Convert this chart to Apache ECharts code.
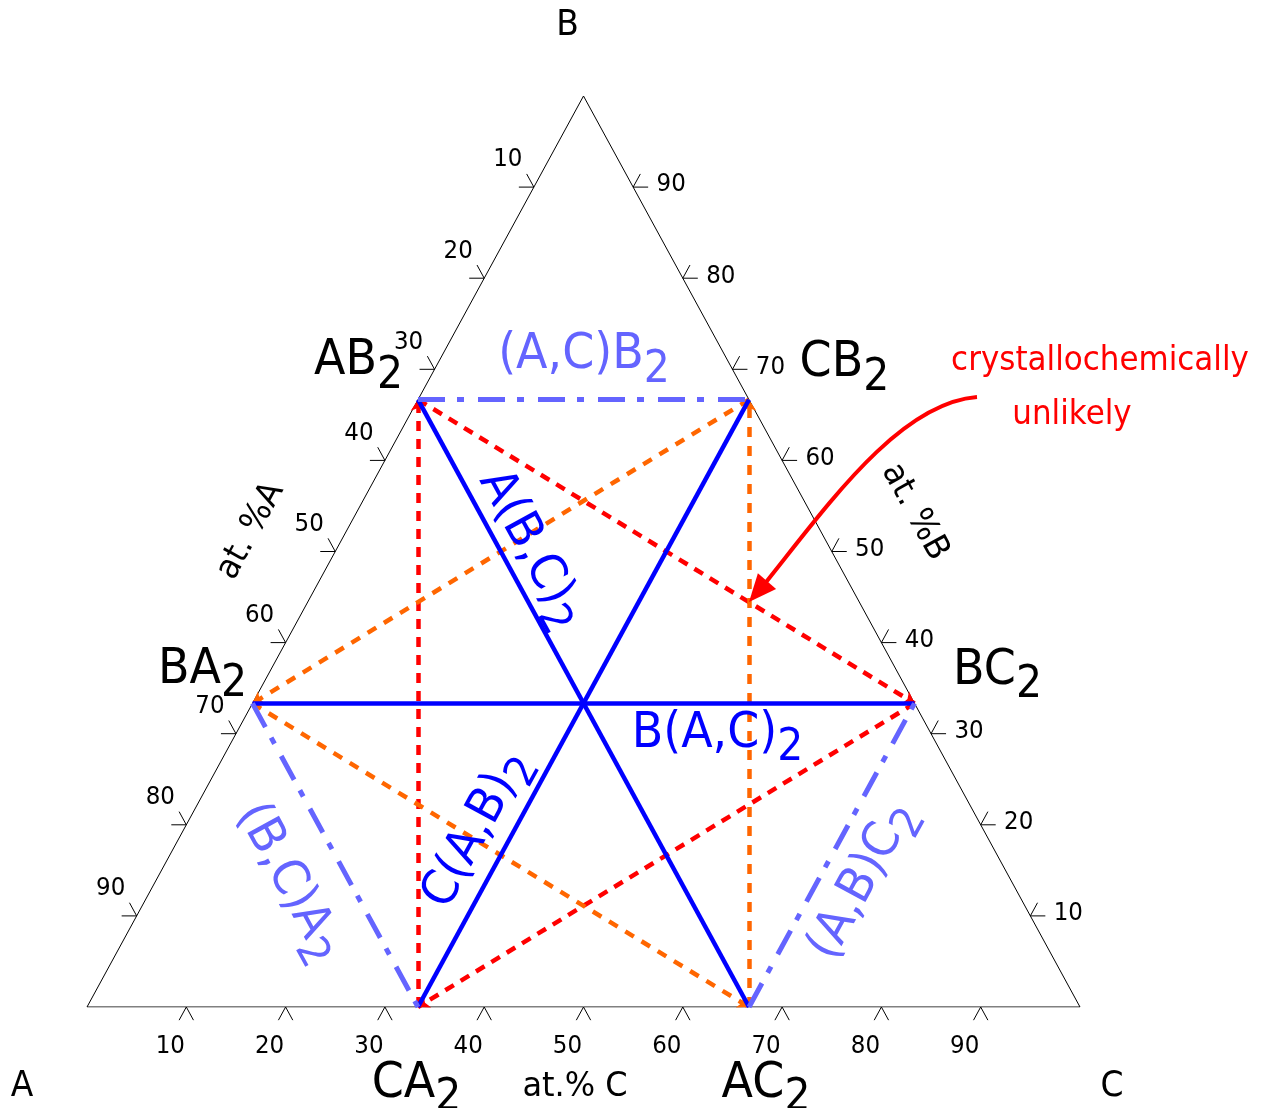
<!DOCTYPE html>
<html>
<head>
<meta charset="utf-8">
<title>Ternary system A–B–C with AB2-type phases</title>
<script src="https://cdn.jsdelivr.net/npm/echarts@6/dist/echarts.min.js"></script>
<style>
  html, body { margin: 0; padding: 0; background: #ffffff; }
  #chart { width: 1269px; height: 1108px; }
</style>
</head>
<body>
<div id="chart"></div>
<script>
// ---------------------------------------------------------------------------
// Data
// ---------------------------------------------------------------------------
const vertexNames = ['A', 'B', 'C'];
const tickValues = [10, 20, 30, 40, 50, 60, 70, 80, 90];
const axisTitles = ['at. %A', 'at. %B', 'at.% C'];

// AB2-type binary compounds and their compositions in at.%
const phaseFormula = ['AB', 'CB', 'BA', 'BC', 'CA', 'AC'];
const phaseSub = '2';
const phaseA = [33.33, 0, 66.67, 0, 66.67, 33.33];
const phaseB = [66.67, 66.67, 33.33, 33.33, 0, 0];
const phaseC = [0, 33.33, 0, 66.67, 33.33, 66.67];

// solid solutions between two compounds (indices into the phase lists)
const solidSolutionNames = ['A(B,C)', 'B(A,C)', 'C(A,B)'];
const solidSolutionEnds = [[0, 5], [2, 3], [4, 1]];
const mixedSiteNames = ['(A,C)B', '(B,C)A', '(A,B)C'];
const mixedSiteEnds = [[0, 1], [2, 4], [5, 3]];

// dotted tie lines, the arrow sits on the second end
const redTieEnds = [[0, 3], [3, 4], [4, 0]];
const orangeTieEnds = [[1, 2], [2, 5], [5, 1]];

const noteLines = ['crystallochemically', 'unlikely'];

// ---------------------------------------------------------------------------
// Geometry helpers
// ---------------------------------------------------------------------------
const FONT = 'DejaVu Sans';
const TEXT_STRETCH = 1.07;
const BLUE = '#0000ff';
const LIGHT_BLUE = '#6464ff';
const RED = '#ff0000';
const ORANGE = '#ff6600';

// composition (A, B, C) -> plane: x = C + B/2, y = B
function toXY(a, b, c) {
  const s = a + b + c;
  return [100 * (c + b / 2) / s, 100 * b / s];
}
const cornerXY = [toXY(100, 0, 0), toXY(0, 100, 0), toXY(0, 0, 100)];
const phaseXY = phaseFormula.map((_, i) => toXY(phaseA[i], phaseB[i], phaseC[i]));

function unit(p, q) {
  const dx = q[0] - p[0], dy = q[1] - p[1];
  const l = Math.hypot(dx, dy);
  return [dx / l, dy / l];
}
function intersect(p1, p2, p3, p4) {
  const d = (p1[0] - p2[0]) * (p3[1] - p4[1]) - (p1[1] - p2[1]) * (p3[0] - p4[0]);
  const a = p1[0] * p2[1] - p1[1] * p2[0];
  const b = p3[0] * p4[1] - p3[1] * p4[0];
  return [(a * (p3[0] - p4[0]) - (p1[0] - p2[0]) * b) / d,
          (a * (p3[1] - p4[1]) - (p1[1] - p2[1]) * b) / d];
}

const measureCtx = document.createElement('canvas').getContext('2d');
function textWidth(str, size) {
  measureCtx.font = size + 'px "' + FONT + '"';
  return measureCtx.measureText(str).width;
}

function plainText(x, y, text, size, color, rotation) {
  return {
    type: 'text', x: x, y: y, rotation: rotation || 0, scaleY: TEXT_STRETCH,
    style: {
      text: text, fill: color, fontSize: size, fontFamily: FONT,
      align: 'center', verticalAlign: 'middle',
      textAlign: 'center', textVerticalAlign: 'middle'
    }
  };
}

// formula with a lowered subscript, centred on (cx, cy)
const MAIN_SIZE = 46;
const SUB_SIZE = 41;
const SUB_DROP = 12;
function formula(cx, cy, base, sub, color, rotation) {
  const wb = textWidth(base, MAIN_SIZE);
  const ws = textWidth(sub, SUB_SIZE);
  const left = -(wb + ws) / 2;
  const baseline = 0.729 * MAIN_SIZE / 2;
  const mk = (x, y, t, size) => ({
    type: 'text', x: x, y: y,
    style: {
      text: t, fill: color, fontSize: size, fontFamily: FONT,
      align: 'left', verticalAlign: 'middle',
      textAlign: 'left', textVerticalAlign: 'middle'
    }
  });
  return {
    type: 'group', x: cx, y: cy, rotation: rotation || 0, scaleY: TEXT_STRETCH,
    children: [
      mk(left, baseline - 0.346 * MAIN_SIZE, base, MAIN_SIZE),
      mk(left + wb, baseline + SUB_DROP - 0.346 * SUB_SIZE, sub, SUB_SIZE)
    ]
  };
}

// ---------------------------------------------------------------------------
// Layout nudges (pixels)
// ---------------------------------------------------------------------------
const phaseLabelShift = [[-59.5, -39], [95.5, -37], [-50, -34], [83, -33], [-1.5, 76], [17, 76]];
const solidLabelShift = [[-51.5, -154.5], [134, 30], [-107.5, 125.5]];
const mixedLabelShift = [[0.5, -45], [-45.5, 27], [30, 25]];
const vertexLabelShift = [[-65, 80], [-16, -70], [32, 80]];
const axisTitleShift = [[-84.5, -20.5], [83, -39.5], [-8.5, 80]];

const lineLabelItems = solidSolutionNames.map((n, i) => ({
  base: n, ends: solidSolutionEnds[i], color: BLUE, shift: solidLabelShift[i]
})).concat(mixedSiteNames.map((n, i) => ({
  base: n, ends: mixedSiteEnds[i], color: LIGHT_BLUE, shift: mixedLabelShift[i]
})));

// ---------------------------------------------------------------------------
// Series data
// ---------------------------------------------------------------------------
const tickData = [];
tickValues.forEach(v => {
  tickData.push(toXY(v, 100 - v, 0).concat([0, v]));   // at.% A on edge A-B
  tickData.push(toXY(0, v, 100 - v).concat([1, v]));   // at.% B on edge B-C
  tickData.push(toXY(100 - v, 0, v).concat([2, v]));   // at.% C on edge A-C
});

const segs = ends => ends.map(e => ({ coords: [phaseXY[e[0]], phaseXY[e[1]]] }));

const noteTarget = intersect(
  phaseXY[redTieEnds[0][0]], phaseXY[redTieEnds[0][1]],
  phaseXY[orangeTieEnds[2][0]], phaseXY[orangeTieEnds[2][1]]
);

// ---------------------------------------------------------------------------
// Render functions
// ---------------------------------------------------------------------------
function corners(api) {
  return cornerXY.map(p => api.coord(p));
}

function renderTick(params, api) {
  const p = api.coord([api.value(0), api.value(1)]);
  const k = api.value(2);
  const [pA, pB, pC] = corners(api);
  let arm1, arm2, off;
  if (k === 0) { arm1 = [-1, 0]; arm2 = unit(pC, pB); off = [-26, -27]; }
  else if (k === 1) { arm1 = [1, 0]; arm2 = unit(pA, pB); off = [38, -2]; }
  else { arm1 = unit(pB, pA); arm2 = unit(pB, pC); off = [-16, 40]; }
  const L = 15;
  return {
    type: 'group',
    children: [
      {
        type: 'polyline',
        shape: { points: [[p[0] + arm1[0] * L, p[1] + arm1[1] * L], p, [p[0] + arm2[0] * L, p[1] + arm2[1] * L]] },
        style: { stroke: '#000', lineWidth: 1, fill: 'none' }
      },
      plainText(p[0] + off[0], p[1] + off[1], String(api.value(3)), 23, '#000')
    ]
  };
}

function renderPhaseLabel(params, api) {
  const i = api.value(2);
  const p = api.coord([api.value(0), api.value(1)]);
  const s = phaseLabelShift[i];
  return formula(p[0] + s[0], p[1] + s[1], phaseFormula[i], phaseSub, '#000', 0);
}

function renderLineLabel(params, api) {
  const d = lineLabelItems[api.value(2)];
  const p1 = api.coord(phaseXY[d.ends[0]]);
  const p2 = api.coord(phaseXY[d.ends[1]]);
  let rot = Math.atan2(-(p2[1] - p1[1]), p2[0] - p1[0]);
  if (Math.abs(rot) < 1e-6) rot = 0;
  const m = api.coord([api.value(0), api.value(1)]);
  return formula(m[0] + d.shift[0], m[1] + d.shift[1], d.base, phaseSub, d.color, rot);
}

function renderVertex(params, api) {
  const k = api.value(2);
  const p = api.coord([api.value(0), api.value(1)]);
  const s = vertexLabelShift[k];
  return plainText(p[0] + s[0], p[1] + s[1], vertexNames[k], 33, '#000');
}

function renderAxisTitle(params, api) {
  const k = api.value(2);
  const p = api.coord([api.value(0), api.value(1)]);
  const [pA, pB, pC] = corners(api);
  const edge = [[pA, pB], [pB, pC], [pA, pC]][k];
  const rot = Math.atan2(-(edge[1][1] - edge[0][1]), edge[1][0] - edge[0][0]);
  const s = axisTitleShift[k];
  return plainText(p[0] + s[0], p[1] + s[1], axisTitles[k], 32, '#000', rot);
}

function renderNote(params, api) {
  const t = api.coord([api.value(0), api.value(1)]);
  const P = (dx, dy) => [t[0] + dx, t[1] + dy];
  const p0 = P(228, -205), c1 = P(150, -199), c2 = P(78, -96), base = P(18, -21);
  const dir = unit(base, t);
  const nrm = [-dir[1], dir[0]];
  const hw = 12;
  const end = [base[0] + dir[0] * 4, base[1] + dir[1] * 4];
  const l1 = P(351, -241), l2 = P(323, -187);
  return {
    type: 'group',
    children: [
      {
        type: 'bezierCurve',
        shape: { x1: p0[0], y1: p0[1], cpx1: c1[0], cpy1: c1[1], cpx2: c2[0], cpy2: c2[1], x2: end[0], y2: end[1] },
        style: { stroke: RED, lineWidth: 4, fill: 'none' }
      },
      {
        type: 'polygon',
        shape: { points: [t, [base[0] + nrm[0] * hw, base[1] + nrm[1] * hw], [base[0] - nrm[0] * hw, base[1] - nrm[1] * hw]] },
        style: { fill: RED, stroke: 'none' }
      },
      plainText(l1[0], l1[1], noteLines[0], 31, RED),
      plainText(l2[0], l2[1], noteLines[1], 31, RED)
    ]
  };
}

// ---------------------------------------------------------------------------
// Chart
// ---------------------------------------------------------------------------
const linesBase = { type: 'lines', coordinateSystem: 'cartesian2d', silent: true, polyline: false };

const option = {
  animation: false,
  backgroundColor: '#ffffff',
  grid: { left: 87, right: 189, top: 96, bottom: 101, show: false, outerBoundsMode: 'none' },
  xAxis: { type: 'value', min: 0, max: 100, show: false },
  yAxis: { type: 'value', min: 0, max: 100, show: false },
  series: [
    Object.assign({}, linesBase, {
      name: 'frame', polyline: true, symbol: 'none',
      data: [{ coords: [cornerXY[0], cornerXY[1], cornerXY[2], cornerXY[0]] }],
      lineStyle: { color: '#000', width: 1, opacity: 1 }
    }),
    {
      name: 'ticks', type: 'custom', coordinateSystem: 'cartesian2d', silent: true,
      renderItem: renderTick, data: tickData
    },
    Object.assign({}, linesBase, {
      name: 'red ties', data: segs(redTieEnds),
      symbol: ['none', 'arrow'], symbolSize: 11,
      lineStyle: { color: RED, width: 4.5, type: [10, 8], opacity: 1, cap: 'butt' }
    }),
    Object.assign({}, linesBase, {
      name: 'orange ties', data: segs(orangeTieEnds),
      symbol: ['none', 'arrow'], symbolSize: 11,
      lineStyle: { color: ORANGE, width: 4.5, type: [10, 9], opacity: 1, cap: 'butt' }
    }),
    Object.assign({}, linesBase, {
      name: 'solid solutions', data: segs(solidSolutionEnds), symbol: 'none',
      lineStyle: { color: BLUE, width: 4.5, type: 'solid', opacity: 1 }
    }),
    Object.assign({}, linesBase, {
      name: 'mixed sites', data: segs(mixedSiteEnds), symbol: 'none',
      lineStyle: { color: LIGHT_BLUE, width: 5, type: [27, 12, 7, 14], opacity: 1, cap: 'butt' }
    }),
    {
      name: 'phase labels', type: 'custom', coordinateSystem: 'cartesian2d', silent: true,
      renderItem: renderPhaseLabel,
      data: phaseXY.map((p, i) => [p[0], p[1], i])
    },
    {
      name: 'line labels', type: 'custom', coordinateSystem: 'cartesian2d', silent: true,
      renderItem: renderLineLabel,
      data: lineLabelItems.map((d, k) => {
        const p = phaseXY[d.ends[0]], q = phaseXY[d.ends[1]];
        return [(p[0] + q[0]) / 2, (p[1] + q[1]) / 2, k];
      })
    },
    {
      name: 'vertices', type: 'custom', coordinateSystem: 'cartesian2d', silent: true,
      renderItem: renderVertex,
      data: cornerXY.map((p, k) => [p[0], p[1], k])
    },
    {
      name: 'axis titles', type: 'custom', coordinateSystem: 'cartesian2d', silent: true,
      renderItem: renderAxisTitle,
      data: [toXY(50, 50, 0), toXY(0, 50, 50), toXY(50, 0, 50)].map((p, k) => [p[0], p[1], k])
    },
    {
      name: 'note', type: 'custom', coordinateSystem: 'cartesian2d', silent: true,
      renderItem: renderNote,
      data: [[noteTarget[0], noteTarget[1]]]
    }
  ]
};

const chart = echarts.init(document.getElementById('chart'), null, { renderer: 'canvas' });
chart.setOption(option);
</script>
</body>
</html>
